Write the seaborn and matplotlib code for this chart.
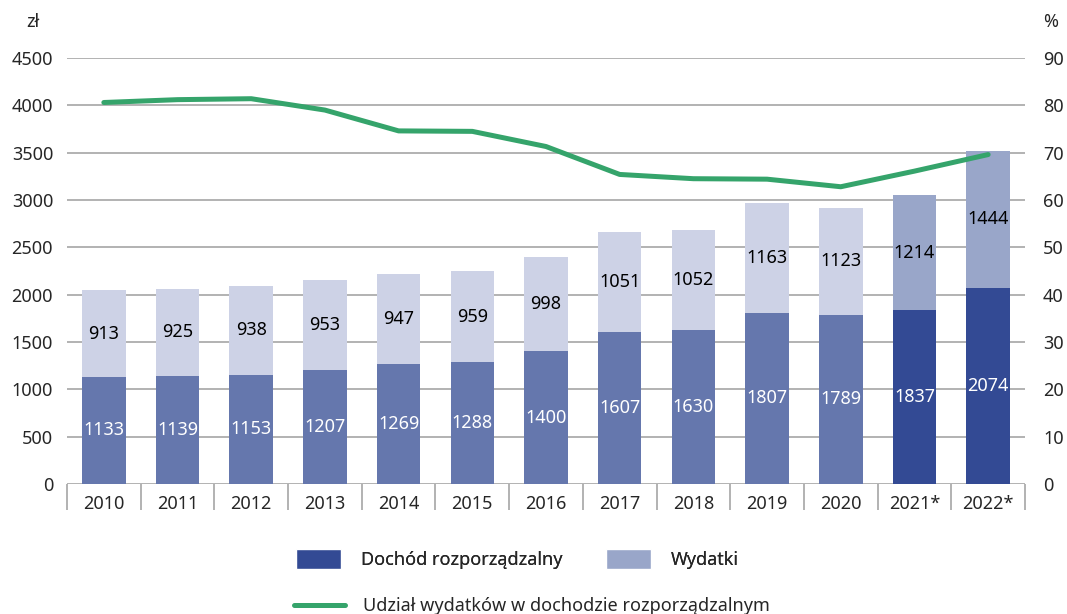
import numpy as np
import pandas as pd
import matplotlib.pyplot as plt
import seaborn as sns
from matplotlib.patches import Patch
from matplotlib.lines import Line2D

years = ['2010', '2011', '2012', '2013', '2014', '2015', '2016',
         '2017', '2018', '2019', '2020', '2021*', '2022*']
income = [1133, 1139, 1153, 1207, 1269, 1288, 1400, 1607, 1630, 1807, 1789, 1837, 2074]
expenses = [913, 925, 938, 953, 947, 959, 998, 1051, 1052, 1163, 1123, 1214, 1444]
share = [80.6, 81.2, 81.4, 79.0, 74.6, 74.5, 71.3, 65.4, 64.5, 64.4, 62.8, 66.1, 69.6]

inc_old, inc_new = '#6577ad', '#334a94'
exp_old, exp_new = '#cdd2e6', '#99a6c9'
green = '#35a46b'
grid_c = '#a6a6a6'
fs = 13

df = pd.DataFrame({'rok': years, 'dochod': income, 'wydatki': expenses, 'udzial': share})
df['suma'] = df['dochod'] + df['wydatki']
forecast = df['rok'].str.endswith('*')
inc_cols = [inc_new if f else inc_old for f in forecast]
exp_cols = [exp_new if f else exp_old for f in forecast]

sns.set_style('white')
plt.rcParams['font.family'] = ['Noto Sans', 'DejaVu Sans']
plt.rcParams['font.size'] = fs

fig = plt.figure(figsize=(10.67, 6.14), dpi=100)
ax = fig.add_axes([67/1067, 1-484/614, (1025-67)/1067, (484-58)/614])

sns.barplot(data=df, x='rok', y='suma', hue='rok', palette=exp_cols,
            legend=False, width=0.59, ax=ax, saturation=1, linewidth=0, zorder=2)
sns.barplot(data=df, x='rok', y='dochod', hue='rok', palette=inc_cols,
            legend=False, width=0.59, ax=ax, saturation=1, linewidth=0, zorder=2)

for i, r in df.iterrows():
    ax.text(i, r['dochod'] / 2, f"{r['dochod']}", ha='center', va='center',
            color='white', fontsize=fs, zorder=3)
    ax.text(i, r['dochod'] + r['wydatki'] / 2, f"{r['wydatki']}", ha='center',
            va='center', color='black', fontsize=fs, zorder=3)

ax.set_ylim(0, 4500)
ax.set_yticks(range(0, 4501, 500))
ax.set_xlim(-0.5, len(years) - 0.5)
ax.yaxis.grid(True, color=grid_c, lw=1.2, zorder=0)
ax.set_axisbelow(True)
for s in ax.spines.values():
    s.set_visible(False)
ax.set_xlabel('')
ax.set_ylabel('')
ax.tick_params(axis='y', length=0, pad=10, labelsize=fs)
ax.tick_params(axis='x', which='major', length=0, pad=8, labelsize=fs)
ax.set_xticks(np.arange(-0.5, len(years)), minor=True)
ax.tick_params(axis='x', which='minor', bottom=True, length=19, width=1.2,
               color=grid_c, direction='out')

ax2 = ax.twinx()
sns.lineplot(x=np.arange(len(years)), y=df['udzial'], color=green, lw=3.6, ax=ax2)
ax2.set_ylim(0, 90)
ax2.set_yticks(range(0, 91, 10))
ax2.set_ylabel('')
for s in ax2.spines.values():
    s.set_visible(False)
ax2.tick_params(axis='y', length=0, pad=13, labelsize=fs)

fig.text(33/1067, 1-22/614, 'zł', ha='center', va='center', fontsize=fs)
fig.text(1051/1067, 1-22/614, '%', ha='center', va='center', fontsize=fs)

h1 = [Patch(facecolor=inc_new, label='Dochód rozporządzalny'),
      Patch(facecolor=exp_new, label='Wydatki')]
leg1 = fig.legend(handles=h1, ncol=2, loc='center left', frameon=False,
                  bbox_to_anchor=(296/1067, 1-559/614), borderpad=0, borderaxespad=0,
                  handlelength=2.5, handleheight=1.4, handletextpad=1.1,
                  columnspacing=2.4, fontsize=fs)
fig.add_artist(leg1)
h2 = [Line2D([0], [0], color=green, lw=3.6, label='Udział wydatków w dochodzie rozporządzalnym')]
fig.legend(handles=h2, loc='center left', frameon=False,
           bbox_to_anchor=(294/1067, 1-606/614), borderpad=0, borderaxespad=0,
           handlelength=2.8, handletextpad=1.0, fontsize=fs)

fig.savefig('out.png', dpi=100)
